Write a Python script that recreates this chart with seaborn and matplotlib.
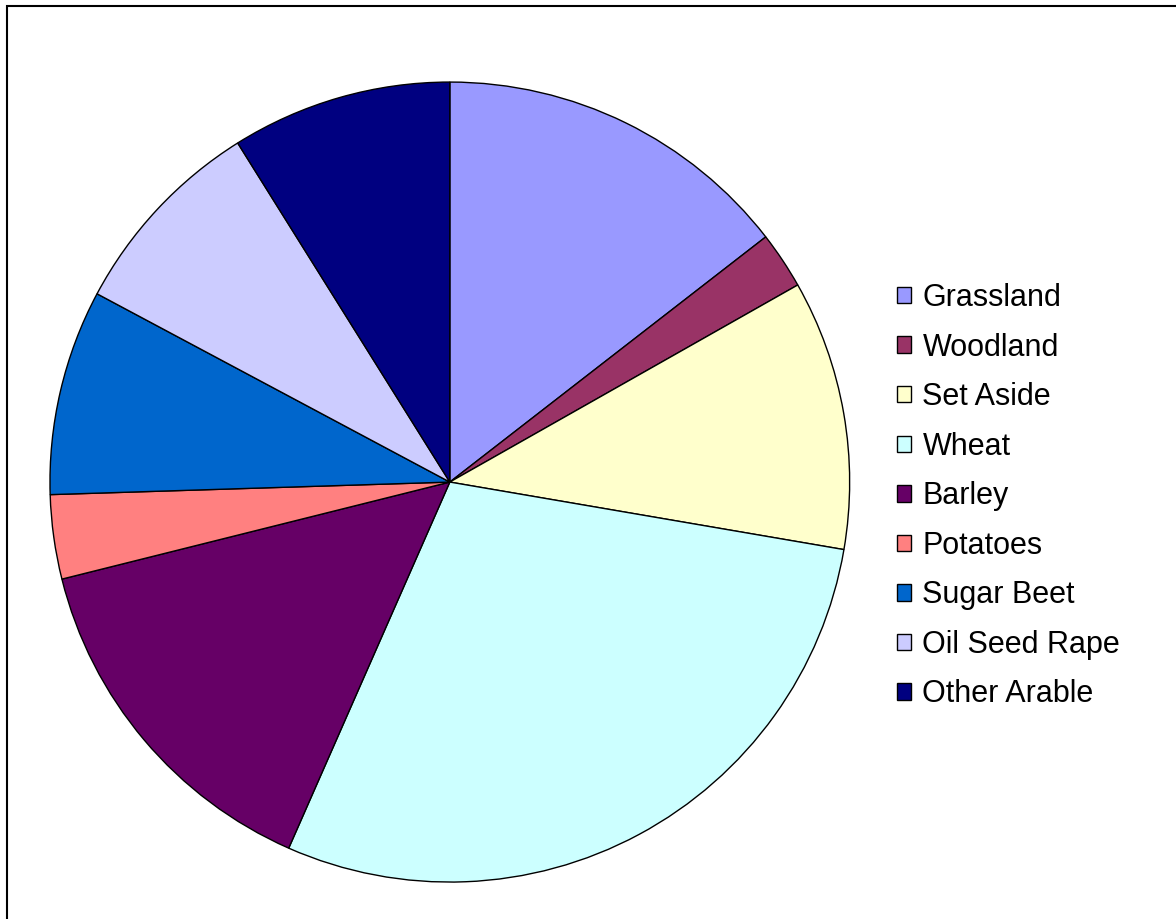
import matplotlib
matplotlib.use("Agg")
import matplotlib.pyplot as plt
import seaborn as sns
from matplotlib.patches import Rectangle

# Land use shares (percent)
categories = ["Grassland", "Woodland", "Set Aside", "Wheat", "Barley",
              "Potatoes", "Sugar Beet", "Oil Seed Rape", "Other Arable"]
shares = [14.5, 2.3, 10.9, 28.9, 14.5, 3.4, 8.3, 8.3, 8.9]
colors = ["#9999FF", "#993366", "#FFFFCC", "#CCFFFF", "#660066",
          "#FF8080", "#0066CC", "#CCCCFF", "#000080"]

sns.set_theme(style="white")
plt.rcParams["font.family"] = ["Liberation Sans", "DejaVu Sans"]
plt.rcParams["text.color"] = "black"

fig = plt.figure(figsize=(11.76, 9.19), dpi=100)
fig.patch.set_facecolor("white")

ax = fig.add_axes([0.0425, 0.0402, 0.680, 0.8705])
wedges, _ = ax.pie(
    shares,
    colors=sns.color_palette(colors),
    startangle=90,
    counterclock=False,
    radius=1.0,
    wedgeprops=dict(edgecolor="black", linewidth=1.0),
)
ax.set_xlim(-1.0, 1.0)
ax.set_ylim(-1.0, 1.0)
ax.set_aspect("auto")
ax.axis("off")

leg = fig.legend(
    wedges, categories,
    loc="upper left",
    bbox_to_anchor=(897 / 1176, 1 - 283 / 919),
    frameon=False,
    fontsize=22,
    handlelength=0.45,
    handleheight=0.45,
    handletextpad=0.38,
    labelspacing=0.64,
    borderpad=0,
    borderaxespad=0,
)
for t in leg.get_texts():
    t.set_color("black")

# Thin frame along the top and left edges
fig.patches.append(Rectangle((7 / 1176, -0.1), 1.2, 1 - 6 / 919 + 0.1,
                             transform=fig.transFigure, fill=False,
                             edgecolor="black", linewidth=1.5))

fig.savefig("out.png", dpi=100)
